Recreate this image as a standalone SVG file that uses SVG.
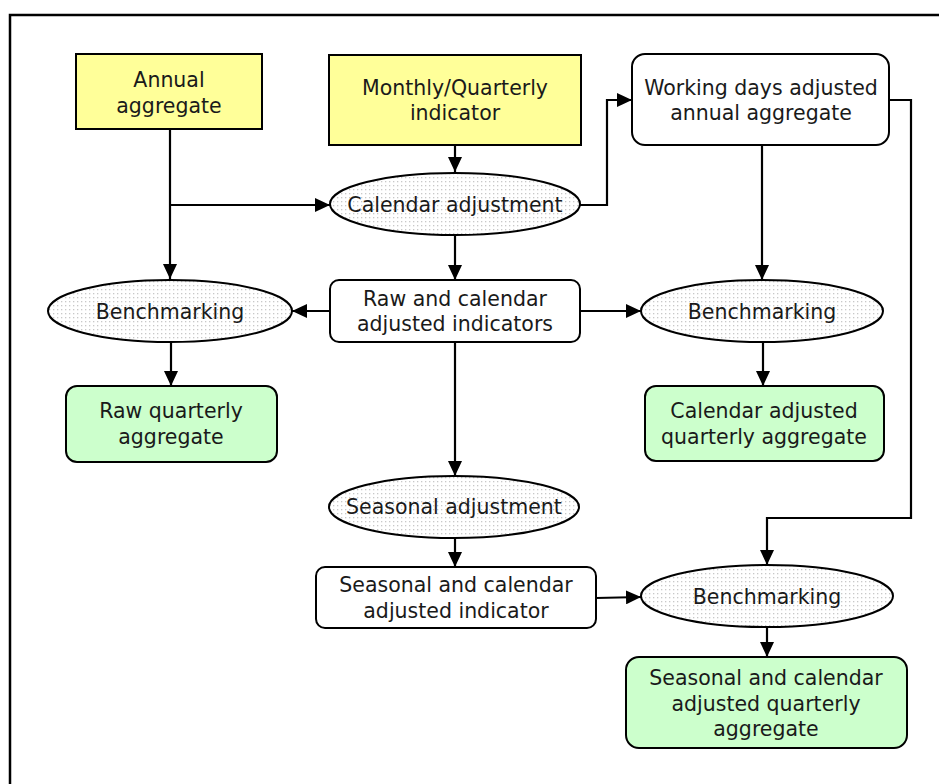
<svg xmlns="http://www.w3.org/2000/svg" width="939" height="784" viewBox="0 0 939 784">
<defs>
<pattern id="dots" width="4" height="4" patternUnits="userSpaceOnUse">
<rect width="4" height="4" fill="#ffffff"/>
<rect x="1" y="1" width="1.3" height="1.3" fill="#c8c8c8"/>
</pattern>
<marker id="ah" viewBox="0 0 15 14" refX="15" refY="7" markerWidth="15" markerHeight="14" markerUnits="userSpaceOnUse" orient="auto">
<path d="M0,0 L15,7 L0,14 z" fill="#000"/>
</marker>
</defs>
<style>
.t{font-family:"DejaVu Sans","Liberation Sans",sans-serif;font-size:20.5px;fill:#1a1a1a;text-anchor:middle}
.in{fill:#ffff99;stroke:#000;stroke-width:2}
.out{fill:#ccffcc;stroke:#000;stroke-width:2}
.mid{fill:#fff;stroke:#000;stroke-width:2}
.op{fill:url(#dots);stroke:#000;stroke-width:2}
.c{fill:none;stroke:#000;stroke-width:2.2;marker-end:url(#ah)}
</style>
<rect x="0" y="0" width="939" height="784" fill="#fff"/>
<rect x="10" y="15" width="1000" height="1000" fill="none" stroke="#000" stroke-width="2.5"/>
<g id="connectors">
<path class="c" d="M170,129 V279"/>
<path class="c" d="M170,205 H330"/>
<path class="c" d="M455,145 V172"/>
<path class="c" d="M580,205 H607 V100 H632"/>
<path class="c" d="M455,235 V280"/>
<path class="c" d="M330,311 H292"/>
<path class="c" d="M580,311 H641"/>
<path class="c" d="M455,342 V476"/>
<path class="c" d="M455,538 V567"/>
<path class="c" d="M171,342 V386"/>
<path class="c" d="M762,145 V280"/>
<path class="c" d="M763,341 V386"/>
<path class="c" d="M889,100 H911 V518 H767 V565"/>
<path class="c" d="M596,598 L641,597"/>
<path class="c" d="M767,627 V657"/>
</g>
<g id="annual">
<rect class="in" x="76" y="54" width="186" height="75"/>
<text class="t" x="169" y="87">Annual</text>
<text class="t" x="169" y="113">aggregate</text>
</g>
<g id="monthly">
<rect class="in" x="329" y="55" width="252" height="90"/>
<text class="t" x="455" y="95">Monthly/Quarterly</text>
<text class="t" x="455" y="120">indicator</text>
</g>
<g id="calendar-adjustment">
<ellipse class="op" cx="455" cy="204" rx="125" ry="31"/>
<text class="t" x="455" y="212">Calendar adjustment</text>
</g>
<g id="working-days">
<rect class="mid" x="632" y="54" width="257" height="91" rx="13"/>
<text class="t" x="761" y="95">Working days adjusted</text>
<text class="t" x="761" y="120">annual aggregate</text>
</g>
<g id="benchmarking1">
<ellipse class="op" cx="170" cy="311" rx="122" ry="31"/>
<text class="t" x="170" y="319">Benchmarking</text>
</g>
<g id="raw-calendar">
<rect class="mid" x="330" y="280" width="250" height="62" rx="9"/>
<text class="t" x="455" y="306">Raw and calendar</text>
<text class="t" x="455" y="331">adjusted indicators</text>
</g>
<g id="benchmarking2">
<ellipse class="op" cx="762" cy="311" rx="121" ry="31"/>
<text class="t" x="762" y="319">Benchmarking</text>
</g>
<g id="raw-quarterly">
<rect class="out" x="66" y="386" width="211" height="76" rx="11"/>
<text class="t" x="171" y="418">Raw quarterly</text>
<text class="t" x="171" y="444">aggregate</text>
</g>
<g id="calendar-quarterly">
<rect class="out" x="645" y="386" width="239" height="75" rx="11"/>
<text class="t" x="764" y="418">Calendar adjusted</text>
<text class="t" x="764" y="444">quarterly aggregate</text>
</g>
<g id="seasonal-adjustment">
<ellipse class="op" cx="454" cy="507" rx="125" ry="31"/>
<text class="t" x="454" y="514">Seasonal adjustment</text>
</g>
<g id="seasonal-indicator">
<rect class="mid" x="316" y="567" width="280" height="61" rx="9"/>
<text class="t" x="456" y="592">Seasonal and calendar</text>
<text class="t" x="456" y="618">adjusted indicator</text>
</g>
<g id="benchmarking3">
<ellipse class="op" cx="767" cy="596" rx="126" ry="31"/>
<text class="t" x="767" y="604">Benchmarking</text>
</g>
<g id="seasonal-quarterly">
<rect class="out" x="626" y="657" width="281" height="91" rx="13"/>
<text class="t" x="766" y="685">Seasonal and calendar</text>
<text class="t" x="766" y="711">adjusted quarterly</text>
<text class="t" x="766" y="736">aggregate</text>
</g>
</svg>
